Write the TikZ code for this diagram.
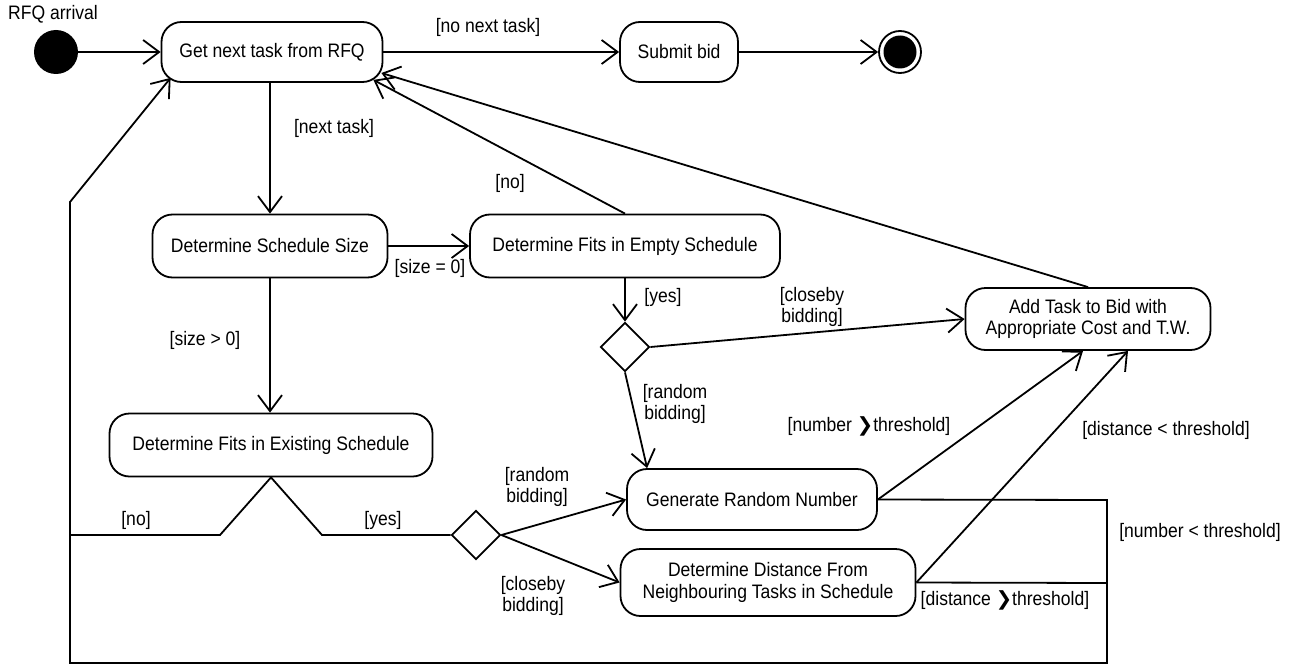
\documentclass[tikz,border=0pt]{standalone}
\usepackage{fontspec}
\setmainfont[FakeStretch=0.9]{Liberation Sans}
\newfontfamily\dejavufam{DejaVu Sans}
\usetikzlibrary{arrows.meta,shapes.geometric,calc}
\newcommand\chevsym{{\dejavufam\bfseries ❯}}
\tikzset{
  txt/.style={font=\fontsize{19.5}{21.5}\selectfont, inner sep=0pt, align=center},
  act/.style={txt, draw, line width=1.8pt, rounded corners=20pt},
  lbl/.style={txt},
  dec/.style={draw, diamond, line width=1.8pt, minimum width=49pt, minimum height=49pt, inner sep=0pt},
  ln/.style={line width=1.8pt},
  arr/.style={ln, -{Straight Barb[length=16pt,width=24pt,line width=1.8pt]}},
}
\begin{document}
\begin{tikzpicture}[x=1pt,y=-1pt]
\useasboundingbox (0,0) rectangle (1289,666);
% nodes
\node[circle, fill, minimum size=44pt, inner sep=0pt] (start) at (56,52) {};
\node[lbl] (rfq) at (53,14) {RFQ arrival};
\node[act, minimum width=221pt, minimum height=60pt] (A) at (272,52) {Get next task from RFQ};
\node[act, minimum width=118pt, minimum height=60pt] (sub) at (679,52) {Submit bid};
\node[circle, draw, line width=1.8pt, minimum size=42pt, inner sep=0pt,
  path picture={\fill (path picture bounding box.center) circle (16.5pt);}] (end) at (900,52) {};
\node[act, minimum width=235pt, minimum height=63pt] (B) at (270,246) {Determine Schedule Size};
\node[act, minimum width=310pt, minimum height=63pt] (C) at (625,246) {Determine Fits in Empty Schedule};
\node[act, minimum width=245pt, minimum height=62pt] (D) at (1088,319) {Add Task to Bid with\\Appropriate Cost and T.W.};
\node[dec] (d1) at (625,347) {};
\node[act, minimum width=323pt, minimum height=63pt] (F) at (271,445) {Determine Fits in Existing Schedule};
\node[act, minimum width=250pt, minimum height=61pt] (E) at (752,499.5) {Generate Random Number};
\node[dec] (d2) at (476,535) {};
\node[act, minimum width=295pt, minimum height=67pt] (G) at (768,582.5) {Determine Distance From\\Neighbouring Tasks in Schedule};
% labels
\node[lbl] (l1) at (488,27) {[no next task]};
\node[lbl] (l2) at (334,128) {[next task]};
\node[lbl] (l3) at (510,183) {[no]};
\node[lbl] (l4) at (430,268) {[size = 0]};
\node[lbl] (l5) at (663,297) {[yes]};
\node[lbl] (l6) at (812,307) {[closeby\\bidding]};
\node[lbl] (l7) at (205,340) {[size > 0]};
\node[lbl] (l8) at (675,404) {[random\\bidding]};
\node[lbl] (l9) at (869,426) {[number \chevsym threshold]};
\node[lbl] (l10) at (1166,430) {[distance < threshold]};
\node[lbl] (l11) at (537,487) {[random\\bidding]};
\node[lbl] (l12) at (136,520) {[no]};
\node[lbl] (l13) at (383,520) {[yes]};
\node[lbl] (l14) at (1200,532) {[number < threshold]};
\node[lbl] (l15) at (533,596) {[closeby\\bidding]};
\node[lbl] (l16) at (1005,600) {[distance \chevsym threshold]};
% coordinates
\coordinate (fl) at (220,535);
\coordinate (fr) at (322,535);
\coordinate (lm) at (70,535);
\coordinate (rt) at (1107,500);
\coordinate (rm) at (1107,583);
\coordinate (rb) at (1107,663);
\coordinate (lb) at (70,663);
\coordinate (lt) at (70,202);
% connectors
\draw[arr] (start) -- (A);
\draw[arr] (A) -- (sub);
\draw[arr] (sub) -- (end);
\draw[arr] (A.south -| B.north) -- (B.north);
\draw[arr] (B) -- (C);
\draw[arr] (C.north) -- ($(A.south east)+(-10,-3)$);
\draw[arr] (D.north) -- ($(A.east)+(-2,21)$);
\draw[arr] (C.south) -- (d1.north);
\draw[arr] (d1.east) -- (D.west);
\draw[arr] (d1.south) -- ($(E.north west)+(21,0)$);
\draw[arr] (B.south) -- (B.south |- F.north);
\draw[ln] (F.south) -- (fl) -- (lm);
\draw[ln] (F.south) -- (fr) -- (d2.west);
\draw[arr] (d2.east) -- (E.west);
\draw[arr] (d2.east) -- (G.west);
\draw[arr] (E.east) -- ($(D.south)+(-5,0)$);
\draw[arr] (G.east) -- ($(D.south)+(40,0)$);
\draw[ln] (G.east) -- (rm);
\draw[arr] (E.east) -- (rt) -- (rb) -- (lb) -- (lt) -- ($(A.south west)+(10,-5)$);
\end{tikzpicture}
\end{document}
